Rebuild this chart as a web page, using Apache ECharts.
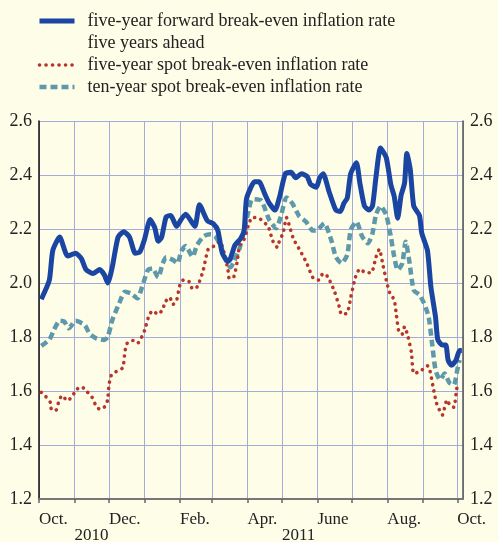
<!DOCTYPE html>
<html>
<head>
<meta charset="utf-8">
<script src="https://cdn.jsdelivr.net/npm/echarts@6/dist/echarts.min.js"></script>
<style>
html,body{margin:0;padding:0;background:#fdfde8;}
#main{width:498px;height:542px;}
</style>
</head>
<body>
<div id="main"></div>
<script>
// day offsets are counted from 1 Oct. 2010
var fwdDays = [2,9,12,18,25,32,37,41,47,53,57,60,64,69,74,79,84,88,92,97,101,104,107,111,115,120,124,128,136,140,147,152,156,160,165,167,171,176,179,181,185,188,192,197,201,206,210,215,220,224,229,234,237,242,245,248,253,259,263,266,269,272,277,280,284,288,291,294,298,303,307,310,313,316,319,321,324,327,332,334,339,342,346,348,352,355,357,360,364,367,369];
var fwdRate = [1.94,2.01,2.12,2.17,2.10,2.11,2.09,2.05,2.035,2.05,2.03,2.00,2.06,2.17,2.19,2.17,2.11,2.115,2.16,2.235,2.205,2.155,2.17,2.245,2.25,2.21,2.235,2.255,2.21,2.29,2.23,2.22,2.195,2.11,2.08,2.09,2.14,2.165,2.195,2.31,2.355,2.375,2.375,2.33,2.295,2.27,2.32,2.405,2.41,2.39,2.405,2.395,2.365,2.355,2.39,2.405,2.34,2.27,2.265,2.295,2.315,2.405,2.445,2.37,2.285,2.27,2.285,2.39,2.50,2.465,2.365,2.32,2.24,2.325,2.37,2.48,2.42,2.285,2.25,2.185,2.12,1.985,1.875,1.79,1.77,1.77,1.715,1.695,1.715,1.75,1.75];

var spot5Days = [2,6,10,11,15,17,20,25,29,33,37,42,46,49,53,58,60,61,63,67,73,75,77,82,86,89,92,96,99,104,108,110,114,117,120,123,126,131,134,138,143,146,148,153,158,162,165,166,170,173,175,179,183,186,192,195,200,204,208,210,213,216,218,222,228,234,239,244,248,252,258,262,264,269,272,275,277,280,285,290,294,297,300,303,306,310,312,314,317,319,322,325,327,332,339,341,344,347,352,356,359,362,364,365];
var spot5Rate = [1.595,1.579,1.557,1.53,1.53,1.557,1.583,1.564,1.581,1.606,1.616,1.597,1.579,1.552,1.532,1.544,1.570,1.62,1.657,1.671,1.686,1.746,1.777,1.787,1.777,1.795,1.823,1.879,1.897,1.884,1.903,1.929,1.947,1.921,1.934,1.993,2.011,2.005,1.978,1.986,2.042,2.100,2.128,2.137,2.153,2.104,2.046,2.017,2.023,2.081,2.138,2.162,2.217,2.243,2.240,2.230,2.209,2.156,2.132,2.159,2.184,2.242,2.219,2.164,2.119,2.070,2.020,2.011,2.036,2.023,1.967,1.912,1.884,1.889,1.946,2.003,2.032,2.052,2.038,2.038,2.095,2.125,2.069,2.011,1.964,1.937,1.878,1.820,1.811,1.838,1.801,1.742,1.665,1.671,1.693,1.678,1.612,1.554,1.511,1.567,1.544,1.540,1.591,1.622];

var spot10Days = [2,9,13,18,22,26,32,40,44,50,57,60,64,70,75,80,86,90,95,99,104,108,111,117,121,124,128,134,138,144,150,154,159,163,167,170,175,179,183,186,194,201,207,211,216,221,227,233,239,243,249,255,259,264,269,272,277,282,287,291,294,298,303,307,310,313,317,320,323,327,332,336,340,343,346,350,354,358,362,365,367];
var spot10Rate = [1.767,1.79,1.826,1.86,1.857,1.832,1.86,1.844,1.813,1.795,1.789,1.80,1.863,1.925,1.968,1.962,1.943,1.986,2.048,2.054,2.021,2.073,2.095,2.085,2.073,2.116,2.137,2.097,2.141,2.174,2.181,2.172,2.134,2.085,2.058,2.079,2.128,2.196,2.27,2.31,2.305,2.233,2.203,2.246,2.317,2.295,2.248,2.227,2.194,2.196,2.221,2.159,2.097,2.073,2.104,2.196,2.227,2.172,2.147,2.184,2.252,2.285,2.252,2.172,2.097,2.048,2.073,2.153,2.085,1.974,1.956,1.925,1.875,1.777,1.678,1.641,1.665,1.631,1.622,1.678,1.715];

var seriesNames = [
    'five-year forward break-even inflation rate',
    'five-year spot break-even inflation rate',
    'ten-year spot break-even inflation rate'
];
var secondLine = 'five years ahead';
var monthLabels = {9: 'Oct.', 11: 'Dec.', 1: 'Feb.', 3: 'Apr.', 5: 'June', 7: 'Aug.'};
var yearLabels = {'2010-10': '2010', '2011-4': '2011'};   // written under Nov. and May
var yTicks = [1.2, 1.4, 1.6, 1.8, 2.0, 2.2, 2.4, 2.6];

var DAY = 86400000;
var start = new Date(2010, 9, 1).getTime();
var lastDay = 370;
function toPairs(days, vals) {
    return days.map(function (d, i) { return [start + d * DAY, vals[i]]; });
}

var font = 'Liberation Serif';
var txt = '#222';
var gridCol = '#a4aad9';

var myChart = echarts.init(document.getElementById('main'));

function yAxisOpt(pos) {
    return {
        type: 'value',
        position: pos,
        min: yTicks[0],
        max: yTicks[yTicks.length - 1],
        interval: 0.2,
        axisLine: {show: true, lineStyle: {color: pos === 'left' ? '#111' : '#555', width: 1.5}},
        axisTick: {show: false},
        axisLabel: {
            margin: 7,
            fontFamily: font, fontSize: 18, color: txt,
            formatter: function (v) { return v.toFixed(1); }
        },
        splitLine: {show: pos === 'left', lineStyle: {color: gridCol, width: 1}}
    };
}

var option = {
    backgroundColor: '#fdfde8',
    animation: false,
    grid: {left: 39, right: 35, top: 121, bottom: 43, containLabel: false, outerBoundsMode: 'none'},
    legend: {
        orient: 'vertical',
        left: 37,
        top: -12,
        padding: 0,
        itemGap: 0,
        itemWidth: 35,
        itemHeight: 14,
        itemStyle: {opacity: 0},
        lineStyle: {width: 'inherit'},
        textStyle: {fontFamily: font, fontSize: 18, color: txt, lineHeight: 22, padding: [0, 0, 0, 8]},
        formatter: function (name) {
            return name === seriesNames[0] ? ' \n' + name + '\n' + secondLine : name;
        },
        data: seriesNames
    },
    xAxis: {
        type: 'time',
        min: start,
        max: start + lastDay * DAY,
        splitNumber: 12,
        minInterval: 28 * DAY,
        maxInterval: 31 * DAY,
        axisLine: {show: true, lineStyle: {color: '#777', width: 2}},
        axisTick: {show: true, length: 4, lineStyle: {color: '#666', width: 1.5}},
        splitLine: {show: true, lineStyle: {color: gridCol, width: 1}},
        axisLabel: {
            align: 'left',
            margin: 13,
            fontFamily: font, fontSize: 17, color: txt, lineHeight: 16,
            formatter: function (v) {
                var d = new Date(v);
                if (d.getDate() !== 1) return '';
                var m = d.getMonth();
                var key = d.getFullYear() + '-' + m;
                if (yearLabels[key]) return '\n' + yearLabels[key];
                return monthLabels[m] || '';
            }
        }
    },
    yAxis: [yAxisOpt('left'), yAxisOpt('right')],
    series: [
        {
            name: seriesNames[1],
            type: 'line',
            symbol: 'none',
            smooth: 0.2,
            z: 3,
            data: toPairs(spot5Days, spot5Rate),
            lineStyle: {color: '#b8352b', width: 3.6, type: [0.1, 6.4], cap: 'round'}
        },
        {
            name: seriesNames[2],
            type: 'line',
            symbol: 'none',
            smooth: 0.2,
            z: 2,
            data: toPairs(spot10Days, spot10Rate),
            lineStyle: {color: '#5e98ab', width: 4.5, type: [7, 4]}
        },
        {
            name: seriesNames[0],
            type: 'line',
            symbol: 'none',
            smooth: 0.2,
            z: 4,
            data: toPairs(fwdDays, fwdRate),
            lineStyle: {color: '#1b45a2', width: 5}
        }
    ]
};
myChart.setOption(option);
</script>
</body>
</html>
